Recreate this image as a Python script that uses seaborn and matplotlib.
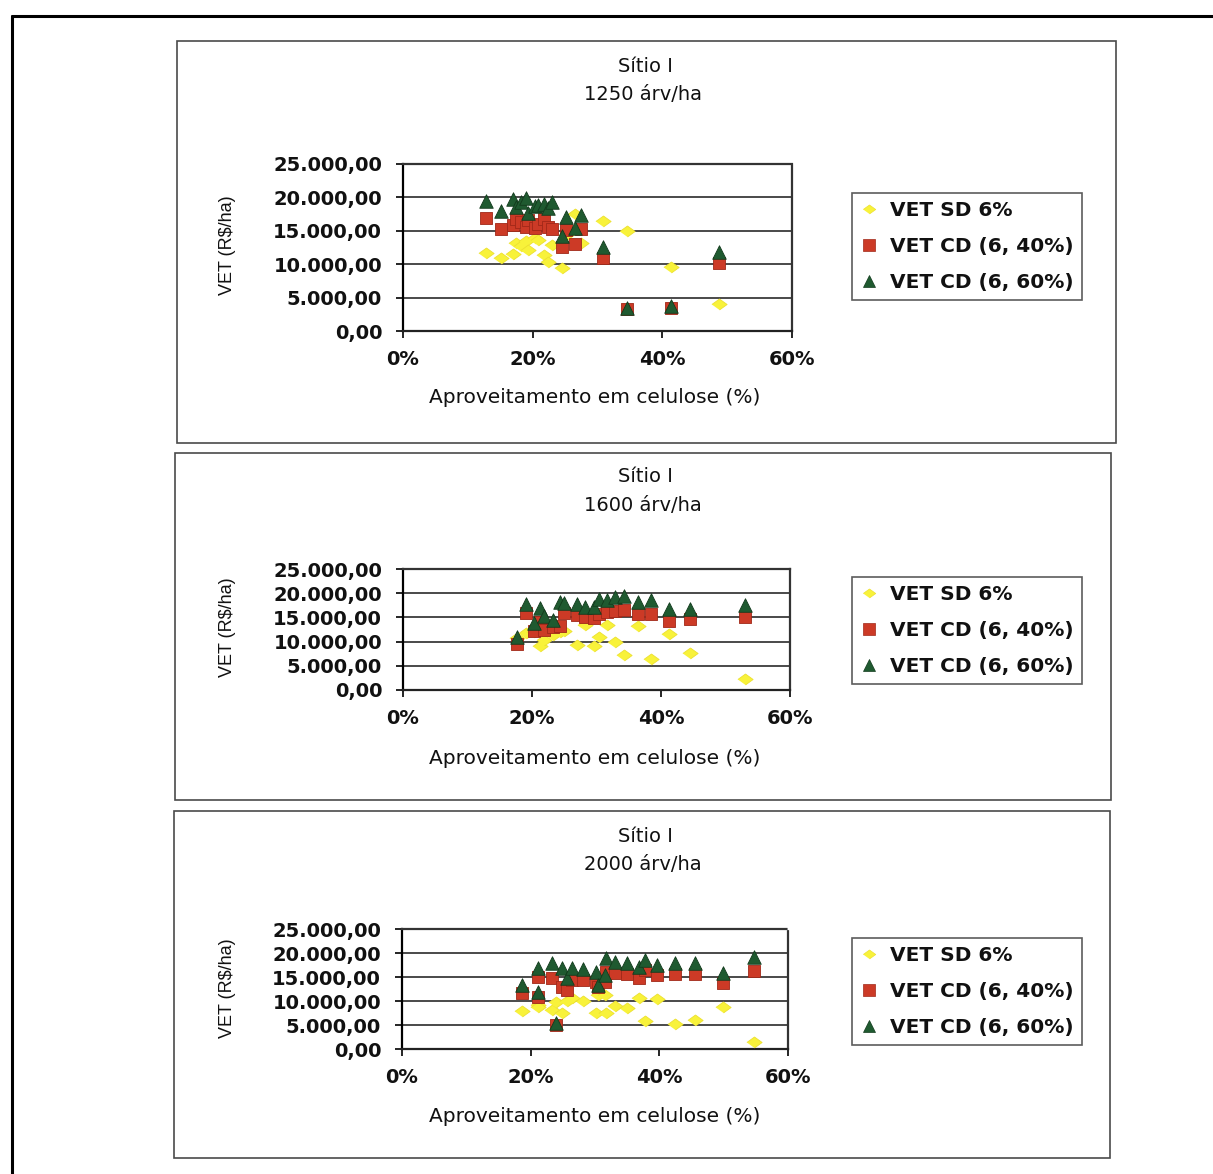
import numpy as np
import pandas as pd
import matplotlib
matplotlib.use("Agg")
import matplotlib.pyplot as plt
import seaborn as sns
from matplotlib.lines import Line2D
from matplotlib.patches import Rectangle
from matplotlib.ticker import FuncFormatter

W, H = 1213, 1174

# ---------------- data (x = aproveitamento em celulose, %; y = VET, R$/ha) ----------------
series_names = ["VET SD 6%", "VET CD (6, 40%)", "VET CD (6, 60%)"]
x_ticks = [0, 20, 40, 60]
y_ticks = [0, 5000, 10000, 15000, 20000, 25000]

# Sítio I - 1250 árv/ha
x_1250 = [12.8, 15.1, 17.0, 17.4, 18.2, 19.0, 19.3, 20.3, 20.8, 21.7, 22.3, 23.0,
          24.5, 25.1, 26.6, 27.4, 30.9, 34.5, 41.3, 48.8]
sd_1250 = [11700, 10900, 11600, 13100, 12700, 13400, 12100, 13900, 13600, 11400, 10400, 12900,
           9500, 14300, 17500, 13200, 16500, 15000, 9600, 4000]
cd40_1250 = [16950, 15300, 15900, 16800, 16300, 15600, 16600, 15400, 16000, 16800, 15500, 15300,
             12600, 15100, 13000, 15200, 10900, 3250, 3500, 10200]
cd60_1250 = [19500, 17900, 19700, 18500, 19300, 19900, 17700, 18700, 18900, 19000, 18400, 19300,
             14200, 17100, 15400, 17300, 12600, 3500, 3700, 11900]

# Sítio I - 1600 árv/ha
x_1600 = [17.7, 19.1, 20.3, 21.3, 21.9, 23.2, 24.3, 25.0, 26.9, 28.2, 29.6, 30.4,
          31.6, 32.9, 34.2, 36.5, 38.5, 41.3, 44.5, 53.0]
sd_1600 = [10800, 11700, 12000, 9000, 10300, 11400, 12000, 12200, 9400, 13500, 9000, 11000,
           13400, 10000, 7200, 13300, 6400, 11500, 7600, 2200]
cd40_1600 = [9500, 16000, 12100, 14100, 12500, 13100, 13200, 15900, 15500, 15100, 14800, 15800,
             16100, 16300, 16500, 15800, 15800, 14300, 14600, 15000]
cd60_1600 = [11000, 17700, 13800, 16900, 15200, 14500, 18200, 17900, 17700, 17200, 17200, 18900,
             18600, 19300, 19500, 18100, 18600, 16700, 16700, 17600]

# Sítio I - 2000 árv/ha
x_2000 = [18.7, 21.1, 21.2, 23.3, 23.9, 24.9, 25.6, 26.5, 28.2, 30.1, 30.5, 31.5,
          31.7, 33.1, 34.9, 36.8, 37.7, 39.7, 42.4, 45.6, 49.9, 54.7]
sd_2000 = [7900, 9200, 8700, 8100, 9800, 7400, 10000, 10700, 10000, 7400, 11300, 11300,
           7400, 9000, 8500, 10700, 5800, 10400, 5300, 6000, 8800, 1500]
cd40_2000 = [11700, 10900, 15100, 14700, 5000, 13000, 12300, 14400, 14400, 14000, 13000, 14000,
             16000, 15800, 15600, 14700, 16500, 15400, 15600, 15600, 13700, 16300]
cd60_2000 = [13300, 11800, 16800, 17900, 5350, 16800, 14700, 16900, 16700, 16100, 13300, 15400,
             18900, 18200, 17900, 17100, 18500, 17500, 17900, 17900, 15800, 19200]

# ---------------- style ----------------
sns.set_theme(style="white")
plt.rcParams["font.family"] = ["DejaVu Sans"]

YELLOW = "#f8f23a"
RED = "#cc3a26"
GREEN = "#1f5a30"
DIAMOND = [(-1, 0), (0, 0.72), (1, 0), (0, -0.72)]
marker_spec = [(DIAMOND, YELLOW, "#ece030", 120),
               ("s", RED, "#a02818", 85),
               ("^", GREEN, "#123a1c", 95)]

fig = plt.figure(figsize=(W / 100, H / 100), dpi=100)
fig.patch.set_facecolor("white")


def fx(px):
    return px / W


def fy(py):
    return 1 - py / H


def br_fmt(v, pos):
    s = f"{v:,.2f}"
    return s.replace(",", "X").replace(".", ",").replace("X", ".")


# outer frame
fig.add_artist(Line2D([fx(12), fx(1213)], [fy(16), fy(16)], color="black", lw=2.2,
                      transform=fig.transFigure))
fig.add_artist(Line2D([fx(12), fx(12)], [fy(16), fy(1174)], color="black", lw=2.2,
                      transform=fig.transFigure))

panels = [
    dict(dens="1250 árv/ha", x=x_1250, ys=[sd_1250, cd40_1250, cd60_1250],
         box=(177, 41, 1116, 443), ax=(403, 164, 792, 331), t1=67, t2=95, xl=398,
         leg=(852, 193), yl=245),
    dict(dens="1600 árv/ha", x=x_1600, ys=[sd_1600, cd40_1600, cd60_1600],
         box=(175, 453, 1111, 800), ax=(403, 569, 790, 690), t1=477, t2=505, xl=758,
         leg=(852, 577), yl=627),
    dict(dens="2000 árv/ha", x=x_2000, ys=[sd_2000, cd40_2000, cd60_2000],
         box=(174, 811, 1110, 1158), ax=(402, 929, 788, 1049), t1=836, t2=864, xl=1117,
         leg=(852, 938), yl=988),
]

for p in panels:
    bx0, by0, bx1, by1 = p["box"]
    fig.add_artist(Rectangle((fx(bx0), fy(by1)), fx(bx1) - fx(bx0), fy(by0) - fy(by1),
                             transform=fig.transFigure, fill=False, edgecolor="#4a4a4a", lw=1.2))
    ax0, ay0, ax1, ay1 = p["ax"]
    ax = fig.add_axes([fx(ax0), fy(ay1), fx(ax1) - fx(ax0), fy(ay0) - fy(ay1)])
    ax.set_facecolor("white")

    df = pd.DataFrame({"x": p["x"]})
    for name, vals in zip(series_names, p["ys"]):
        df[name] = vals
    for name, (mk, col, ec, s) in zip(series_names, marker_spec):
        sns.scatterplot(data=df, x="x", y=name, marker=mk, color=col, edgecolor=ec,
                        linewidth=0.6, s=s, ax=ax, legend=False, zorder=3)

    ax.set_xlim(0, 60)
    ax.set_ylim(0, 25000)
    ax.set_xticks(x_ticks)
    ax.set_yticks(y_ticks)
    ax.xaxis.set_major_formatter(FuncFormatter(lambda v, pos: f"{v:.0f}%"))
    ax.yaxis.set_major_formatter(FuncFormatter(br_fmt))
    ax.set_xlabel("")
    ax.set_ylabel("")
    for yv in y_ticks[1:-1]:
        ax.axhline(yv, color="#3c3c3c", lw=1.3, zorder=1)
    ax.spines["left"].set_color("black")
    ax.spines["left"].set_linewidth(1.6)
    ax.spines["bottom"].set_color("#222222")
    ax.spines["bottom"].set_linewidth(1.6)
    for sp in ("top", "right"):
        ax.spines[sp].set_color("#333333")
        ax.spines[sp].set_linewidth(1.6)
        ax.spines[sp].set_linestyle((0, (1, 1)))
    ax.tick_params(axis="y", which="major", left=True, length=5, width=1.2, color="black",
                   pad=10, labelsize=14, labelcolor="#111111")
    ax.tick_params(axis="x", which="major", bottom=True, length=5, width=1.2, color="black",
                   pad=9, labelsize=14, labelcolor="#111111")
    for lab in ax.get_xticklabels() + ax.get_yticklabels():
        lab.set_fontweight("bold")

    # titles & labels
    fig.text(fx(645), fy(p["t1"]), "Sítio I", ha="center", va="center", fontsize=14,
             color="#111111")
    fig.text(fx(643), fy(p["t2"]), p["dens"], ha="center", va="center", fontsize=14,
             color="#111111")
    fig.text(fx(595), fy(p["xl"]), "Aproveitamento em celulose (%)", ha="center", va="center",
             fontsize=14.5, color="#111111")
    fig.text(fx(228), fy(p["yl"]), "VET (R$/ha)", ha="center", va="center", rotation=90,
             fontsize=13, color="#111111",
             family=["Liberation Sans", "DejaVu Sans"])

    handles = [Line2D([], [], linestyle="none", marker=mk, markersize=ms, markerfacecolor=col,
                      markeredgecolor=ec, markeredgewidth=0.5)
               for (mk, col, ec, _), ms in zip(marker_spec, [9, 8, 8])]
    lx, ly = p["leg"]
    leg = fig.legend(handles, series_names, loc="upper left",
                     bbox_to_anchor=(fx(lx), fy(ly)), bbox_transform=fig.transFigure,
                     frameon=True, fancybox=False, fontsize=14.5, labelspacing=0.85,
                     handlelength=0.9, handletextpad=0.6, borderpad=0.4, borderaxespad=0,
                     prop={"weight": "bold", "size": 14.5})
    leg.get_frame().set_edgecolor("#333333")
    leg.get_frame().set_linewidth(1.2)
    for t in leg.get_texts():
        t.set_color("#111111")

fig.savefig("out.png", dpi=100, facecolor="white")
